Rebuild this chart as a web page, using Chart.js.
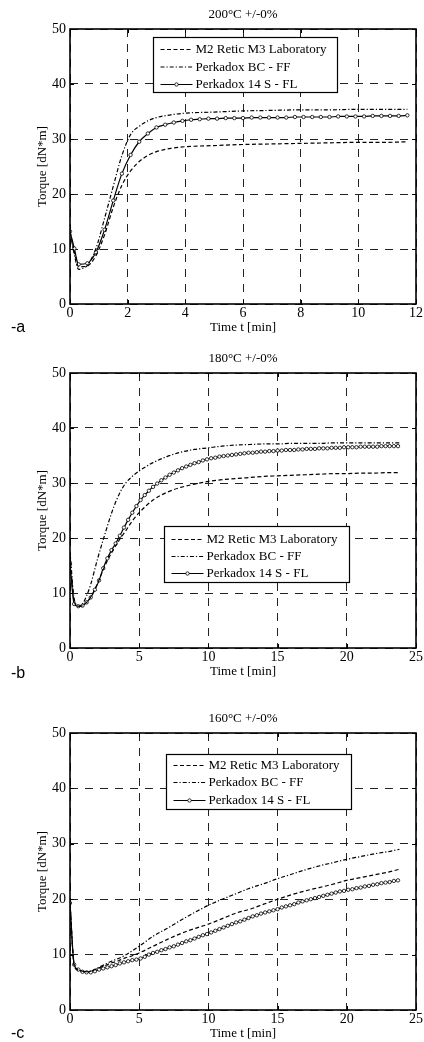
<!DOCTYPE html>
<html><head><meta charset="utf-8">
<script src="https://cdn.jsdelivr.net/npm/chart.js@4.4.0/dist/chart.umd.min.js"></script>
<style>
html,body{margin:0;padding:0;background:#fff;}
#wrap{position:relative;width:424px;height:1042px;overflow:hidden;background:#fff;}
canvas{position:absolute;left:0;}
.tag{position:absolute;left:11px;font:16px/16px "Liberation Sans",Arial,sans-serif;color:#000;}
</style></head><body>
<div id="wrap">
<canvas id="ca" width="424" height="336" style="top:0px"></canvas>
<canvas id="cb" width="424" height="336" style="top:344px"></canvas>
<canvas id="cc" width="424" height="338" style="top:704px"></canvas>
<div class="tag" style="top:319px">-a</div>
<div class="tag" style="top:665px">-b</div>
<div class="tag" style="top:1025px">-c</div>
</div>
<script>
// ---- labels ----
const seriesLabels = ['M2 Retic M3 Laboratory', 'Perkadox BC - FF', 'Perkadox 14 S - FL'];
const titles = ['200°C +/-0%', '180°C +/-0%', '160°C +/-0%'];
const xTitle = 'Time t [min]';
const yTitle = 'Torque [dN*m]';
const yTicks = [0, 10, 20, 30, 40, 50];
const xTicksA = [0, 2, 4, 6, 8, 10, 12];
const xTicksBC = [0, 5, 10, 15, 20, 25];

// ---- chart a : 200 °C ----
const timeA = [0,0.15,0.3,0.45,0.6,0.9,1.2,1.5,1.8,2.1,2.4,2.7,3,3.5,4,5,6,7,8,9,10,11,11.7];
const m2A = [13.2,9.5,6.8,6.8,6.9,8.8,12.6,17.6,21.6,24.2,25.9,27.0,27.7,28.3,28.6,28.8,29.0,29.1,29.2,29.3,29.4,29.4,29.5];
const ffA = [13.2,9.0,6.3,6.5,7.0,10.1,15.6,21.4,27.0,30.8,32.3,33.3,33.9,34.4,34.7,34.9,35.1,35.2,35.3,35.3,35.4,35.4,35.4];
const timeFlA = [0,0.15,0.3,0.6,0.9,1.2,1.5,1.8,2.1,2.4,2.7,3.0,3.3,3.6,3.9,4.2,4.5,4.8,5.1,5.4,5.7,6.0,6.3,6.6,6.9,7.2,7.5,7.8,8.1,8.4,8.7,9.0,9.3,9.6,9.9,10.2,10.5,10.8,11.1,11.4,11.7];
const flA = [13.2,10.1,7.2,7.4,9.4,13.5,18.8,23.7,27.1,29.5,31.0,32.1,32.6,33.0,33.3,33.5,33.6,33.7,33.7,33.8,33.8,33.8,33.9,33.9,33.9,33.9,33.9,34.0,34.0,34.0,34.0,34.0,34.1,34.1,34.1,34.1,34.2,34.2,34.2,34.2,34.3];

// ---- charts b, c : 180 °C and 160 °C ----
const timeBC = [0,0.3,0.6,0.9,1.2,1.5,2,2.5,3,3.5,4,4.5,5,6,7,8,9,10,11,12,13,14,15,16,17,18,19,20,21,22,23,23.8];
const timeFlBC = [0,0.3,0.6,0.9,1.2,1.5,1.8,2.1,2.4,2.7,3,3.3,3.6,3.9,4.2,4.5,4.8,5.1,5.4,5.7,6,6.3,6.6,6.9,7.2,7.5,7.8,8.1,8.4,8.7,9,9.3,9.6,9.9,10.2,10.5,10.8,11.1,11.4,11.7,12,12.3,12.6,12.9,13.2,13.5,13.8,14.1,14.4,14.7,15,15.3,15.6,15.9,16.2,16.5,16.8,17.1,17.4,17.7,18,18.3,18.6,18.9,19.2,19.5,19.8,20.1,20.4,20.7,21,21.3,21.6,21.9,22.2,22.5,22.8,23.1,23.4,23.7];

const m2B = [16.5,8.5,7.5,7.7,8.3,9.3,11.8,14.8,17.3,19.4,21.2,23.1,24.6,26.9,28.3,29.2,29.8,30.3,30.6,30.8,31.0,31.2,31.3,31.4,31.5,31.6,31.7,31.7,31.8,31.8,31.9,31.9];
const ffB = [17.5,9.0,7.6,8.0,9.5,11.6,16.3,20.5,24.5,27.7,29.9,31.2,32.2,33.7,34.8,35.6,36.1,36.4,36.7,36.9,37.0,37.1,37.1,37.2,37.2,37.2,37.3,37.3,37.3,37.3,37.3,37.3];
const flB = [15.3,8.0,7.6,7.7,8.3,9.2,10.6,12.3,14.5,16.3,17.8,19.0,20.4,21.9,23.3,24.6,25.8,26.9,27.8,28.6,29.3,29.9,30.5,31.0,31.5,31.9,32.3,32.7,33.0,33.3,33.6,33.8,34.1,34.3,34.5,34.6,34.8,34.9,35.0,35.1,35.2,35.3,35.4,35.5,35.5,35.6,35.7,35.7,35.8,35.8,35.9,35.9,36.0,36.0,36.0,36.1,36.1,36.2,36.2,36.2,36.3,36.3,36.3,36.4,36.4,36.4,36.5,36.5,36.5,36.5,36.6,36.6,36.6,36.6,36.6,36.7,36.7,36.7,36.7,36.7];

const m2C = [19.3,8.0,7.2,7.0,6.9,7.0,7.5,8.0,8.5,8.9,9.4,9.8,10.3,11.5,12.7,13.8,14.7,15.5,16.5,17.5,18.2,19.1,20.0,20.8,21.5,22.1,22.7,23.4,23.9,24.4,24.9,25.4];
const ffC = [19.3,8.3,7.3,7.0,6.9,7.0,7.6,8.2,8.8,9.3,9.9,10.7,11.5,13.3,14.7,16.2,17.6,18.9,20.0,21.0,22.0,22.8,23.7,24.5,25.3,26.0,26.6,27.2,27.7,28.2,28.6,29.0];
const flC = [19.3,8.2,7.3,6.9,6.8,6.8,7.0,7.3,7.5,7.7,7.9,8.1,8.4,8.6,8.8,9.0,9.1,9.3,9.6,10.0,10.3,10.5,10.8,11.0,11.3,11.5,11.8,12.1,12.4,12.6,12.9,13.2,13.5,13.7,14.0,14.3,14.6,14.9,15.2,15.5,15.8,16.0,16.3,16.6,16.9,17.1,17.4,17.6,17.8,18.0,18.2,18.5,18.7,18.9,19.1,19.4,19.6,19.8,20.0,20.2,20.4,20.6,20.8,21.0,21.2,21.4,21.5,21.7,21.8,22.0,22.1,22.3,22.4,22.6,22.7,22.9,23.0,23.1,23.3,23.4];

// ---- drawing ----
const SERIF = '"Liberation Serif","Times New Roman",serif';
const pts = (t, v) => t.map((x, i) => ({x: x, y: v[i]}));

const framePlugin = {
  id: 'frame',
  afterDraw(chart, args, o) {
    const {ctx, chartArea: a, scales: {x, y}} = chart;
    ctx.save();
    ctx.setLineDash([]);
    ctx.strokeStyle = '#000';
    ctx.lineWidth = 1;
    ctx.beginPath();
    x.ticks.forEach(t => {
      const px = Math.round(x.getPixelForValue(t.value)) + 0.5;
      ctx.moveTo(px, a.bottom); ctx.lineTo(px, a.bottom - 4);
      ctx.moveTo(px, a.top); ctx.lineTo(px, a.top + 4);
    });
    y.ticks.forEach(t => {
      const py = Math.round(y.getPixelForValue(t.value)) + 0.5;
      ctx.moveTo(a.left, py); ctx.lineTo(a.left + 4, py);
      ctx.moveTo(a.right, py); ctx.lineTo(a.right - 4, py);
    });
    ctx.stroke();
    ctx.lineWidth = 1.6;
    ctx.strokeRect(a.left, a.top, a.right - a.left, a.bottom - a.top);
    // chart title, centred over the plot area
    ctx.fillStyle = '#000';
    ctx.font = '13px ' + SERIF;
    ctx.textAlign = 'center';
    ctx.textBaseline = 'middle';
    ctx.fillText(o.title, (a.left + a.right) / 2, a.top - 14);
    // legend box
    const bx = Math.round(a.left + o.dx) + 0.5, by = Math.round(a.top + o.dy) + 0.5;
    ctx.fillStyle = '#fff';
    ctx.fillRect(bx, by, o.w, o.h);
    ctx.lineWidth = 1.2;
    ctx.strokeRect(bx, by, o.w, o.h);
    chart.data.datasets.forEach((ds, i) => {
      const ry = by + o.rows[i];
      ctx.beginPath();
      ctx.setLineDash(ds.borderDash || []);
      ctx.lineWidth = ds.borderWidth;
      ctx.strokeStyle = '#000';
      ctx.moveTo(bx + 7, ry); ctx.lineTo(bx + 39, ry);
      ctx.stroke();
      ctx.setLineDash([]);
      if (ds.pointRadius > 0) {
        ctx.beginPath();
        ctx.arc(bx + 23, ry, ds.pointRadius, 0, Math.PI * 2);
        ctx.fillStyle = '#fff'; ctx.fill();
        ctx.lineWidth = ds.pointBorderWidth; ctx.stroke();
      }
      ctx.fillStyle = '#000';
      ctx.font = '13px ' + SERIF;
      ctx.textBaseline = 'middle';
      ctx.textAlign = 'left';
      ctx.fillText(ds.label, bx + 42, ry + 0.5);
    });
    ctx.restore();
  }
};

function makeChart(id, title, tM, m2, ff, tF, fl, xMax, xTicks, legend) {
  legend.title = title;
  new Chart(document.getElementById(id), {
    type: 'line',
    data: {
      datasets: [
        {label: seriesLabels[0], data: pts(tM, m2), borderColor: '#000', borderWidth: 1.2,
         borderDash: [4, 2.5], pointRadius: 0, cubicInterpolationMode: 'monotone', fill: false},
        {label: seriesLabels[1], data: pts(tM, ff), borderColor: '#000', borderWidth: 1.2,
         borderDash: [4, 2, 1.2, 2], pointRadius: 0, cubicInterpolationMode: 'monotone', fill: false},
        {label: seriesLabels[2], data: pts(tF, fl), borderColor: '#000', borderWidth: 1.2,
         pointRadius: 1.7, pointBorderWidth: 0.8, pointBackgroundColor: '#fff', pointBorderColor: '#000',
         pointHoverRadius: 1.7, cubicInterpolationMode: 'monotone', fill: false}
      ]
    },
    options: {
      responsive: false, animation: false, devicePixelRatio: 1,
      layout: {padding: {left: 0, right: 7, top: 29, bottom: 0}},
      plugins: {
        legend: {display: false}, tooltip: {enabled: false}, title: {display: false},
        frame: legend
      },
      scales: {
        x: {
          type: 'linear', min: 0, max: xMax,
          afterBuildTicks: s => { s.ticks = xTicks.map(v => ({value: v})); },
          afterFit: s => { s.height = 32; },
          ticks: {color: '#000', font: {family: SERIF, size: 14}, padding: 1, maxRotation: 0, autoSkip: false},
          grid: {color: '#222', lineWidth: 1, drawTicks: false},
          border: {display: false, dash: [8, 7]},
          title: {display: true, text: xTitle, color: '#000', font: {family: SERIF, size: 13}, padding: {top: 0, bottom: 1}}
        },
        y: {
          min: 0, max: 50,
          afterBuildTicks: s => { s.ticks = yTicks.map(v => ({value: v})); },
          afterFit: s => { s.width = 70; },
          ticks: {color: '#000', font: {family: SERIF, size: 14}, padding: 4},
          grid: {color: '#222', lineWidth: 1, drawTicks: false},
          border: {display: false, dash: [8, 7]},
          title: {display: true, text: yTitle, color: '#000', font: {family: SERIF, size: 13}, padding: {top: 35, bottom: 0}}
        }
      }
    },
    plugins: [framePlugin]
  });
}

makeChart('ca', titles[0], timeA, m2A, ffA, timeFlA, flA, 12, xTicksA,
  {dx: 83, dy: 8, w: 184, h: 55, rows: [12, 29.5, 47]});
makeChart('cb', titles[1], timeBC, m2B, ffB, timeFlBC, flB, 25, xTicksBC,
  {dx: 94, dy: 153, w: 185, h: 56, rows: [13, 30, 47]});
makeChart('cc', titles[2], timeBC, m2C, ffC, timeFlBC, flC, 25, xTicksBC,
  {dx: 96, dy: 21, w: 185, h: 55, rows: [11, 28, 46]});
</script>
</body></html>
